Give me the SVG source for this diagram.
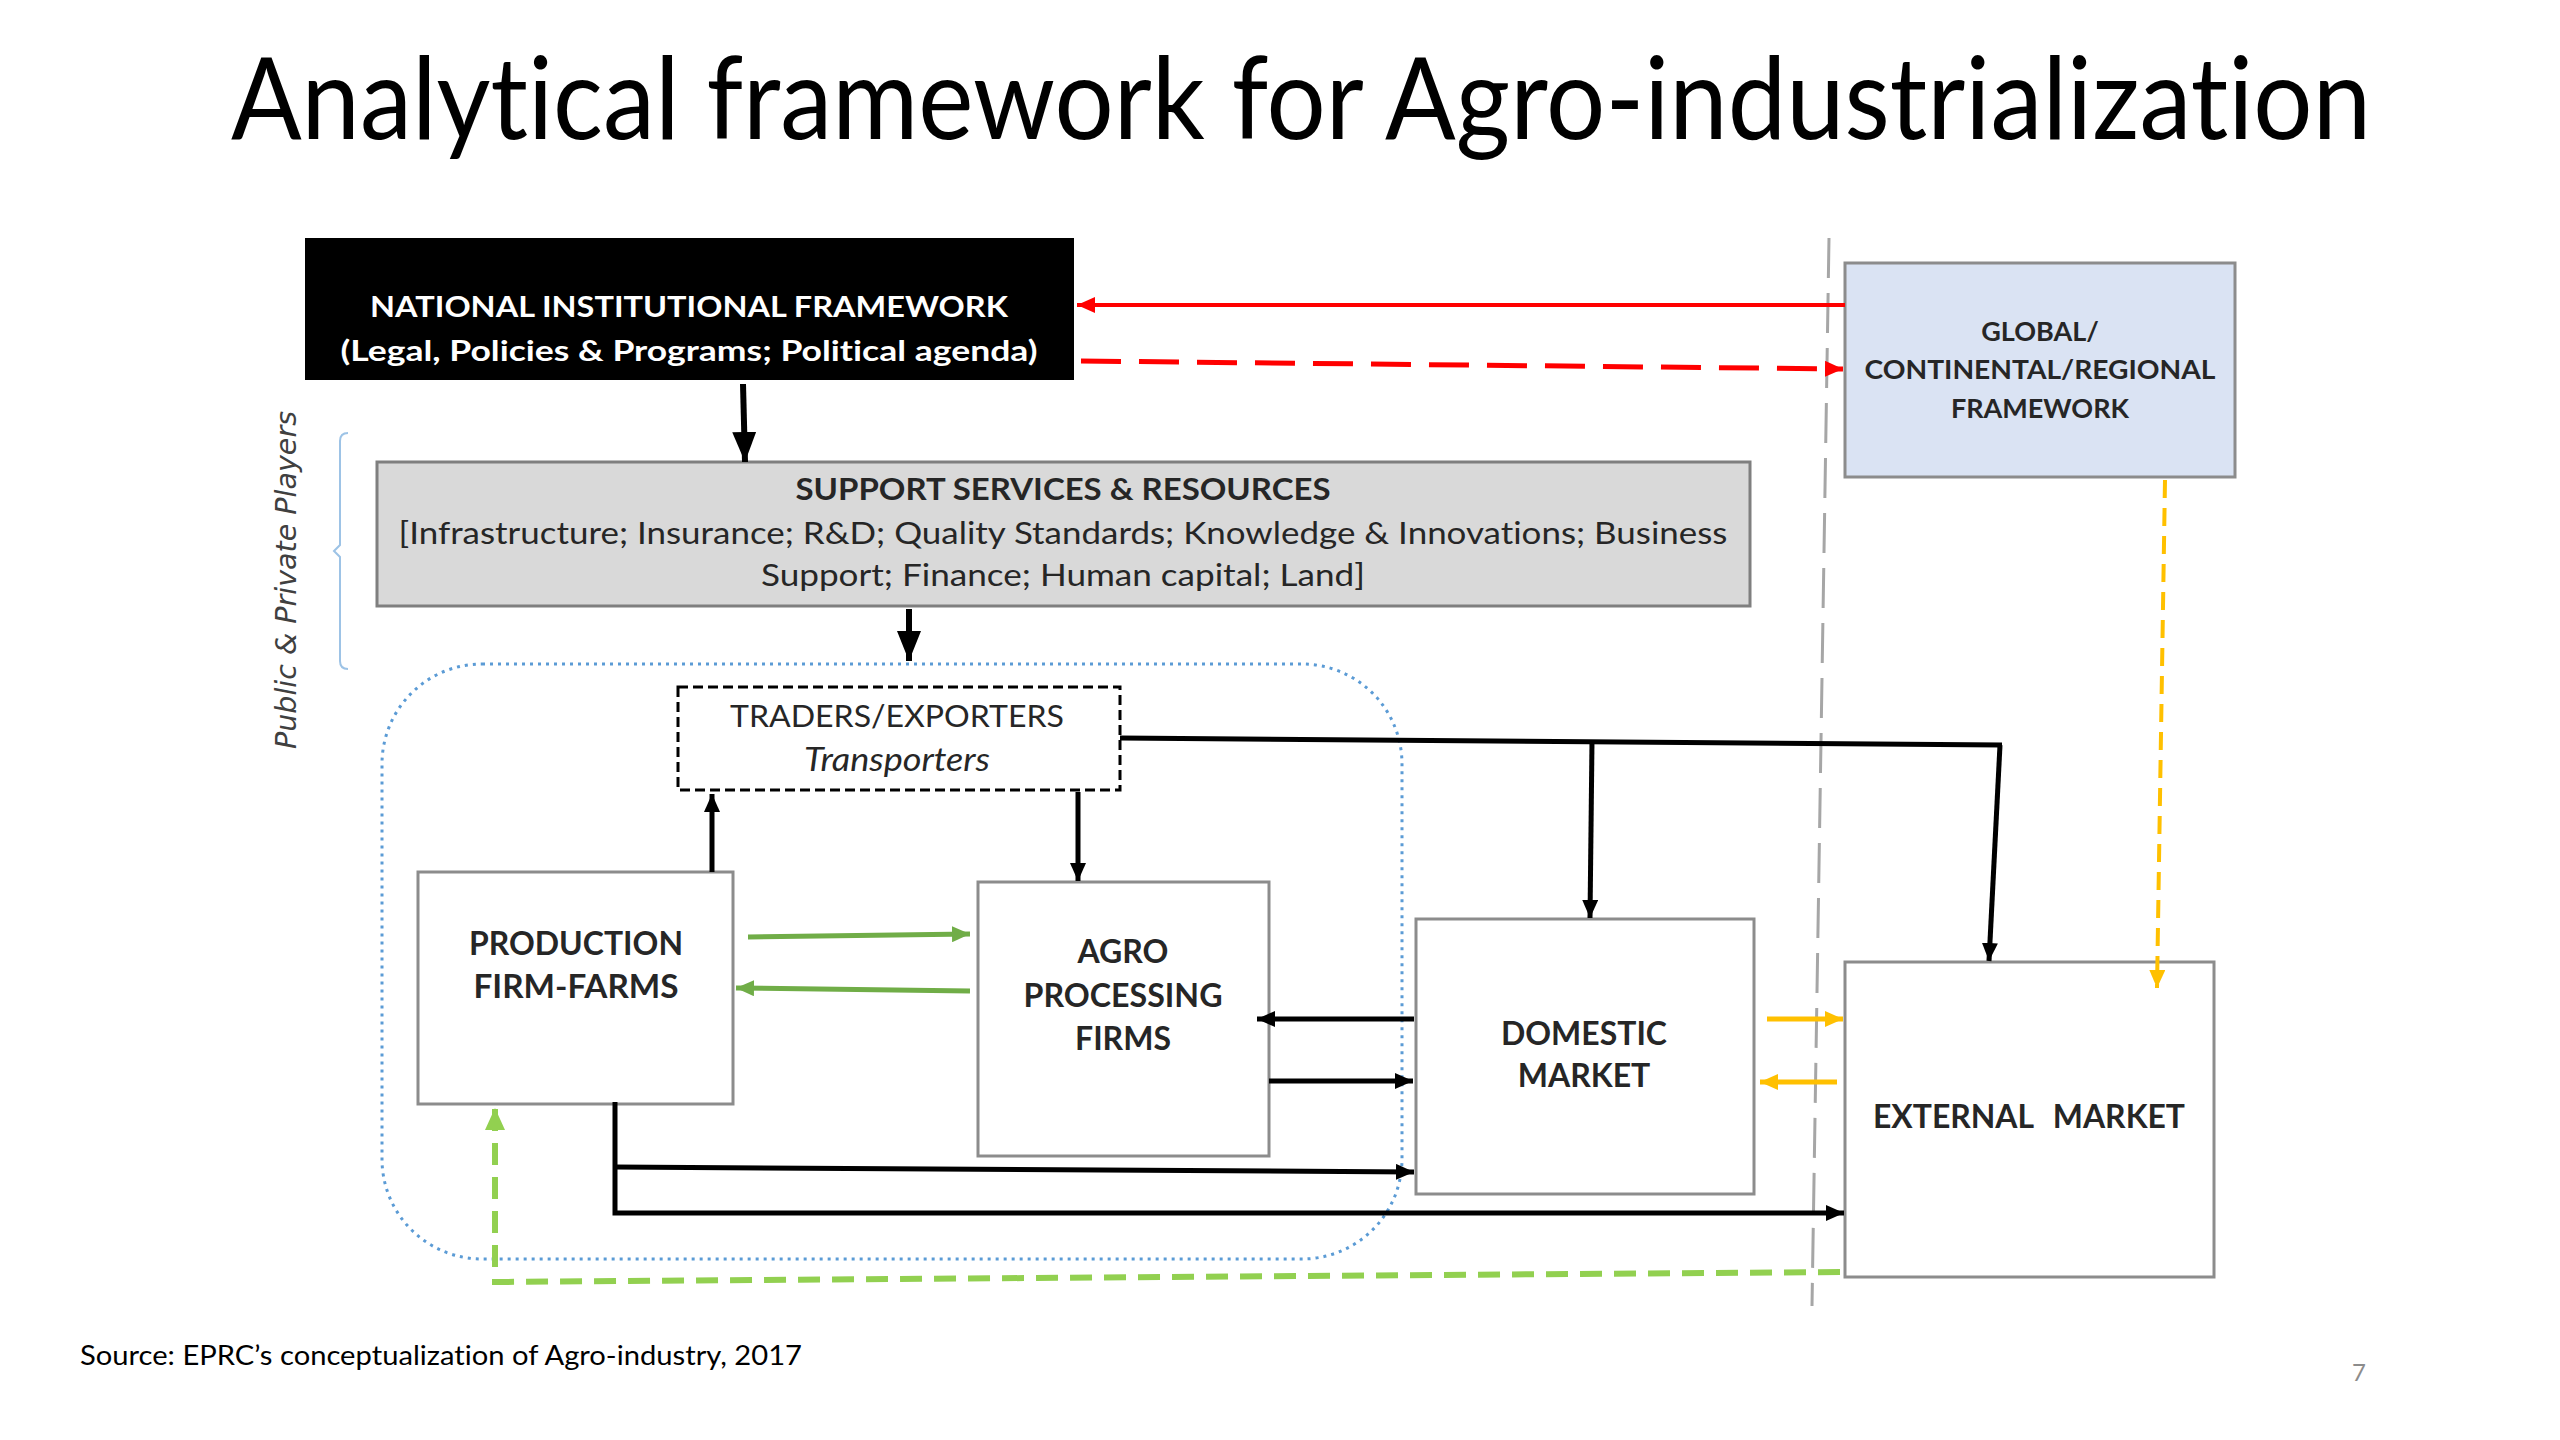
<svg xmlns="http://www.w3.org/2000/svg" width="2560" height="1440" viewBox="0 0 2560 1440">
<defs>
<style>
.t{font-family:Lato,"Open Sans","Liberation Sans",sans-serif;font-variant-ligatures:none;}
.b{font-weight:bold;}
.box{fill:#ffffff;stroke:#8c8c8c;stroke-width:3;}
.lbl{font-size:32px;fill:#262626;text-anchor:middle;font-weight:bold;}
.blk{stroke:#000;stroke-width:5;fill:none;}
.grn{stroke:#70ad47;stroke-width:5;fill:none;}
.yel{stroke:#ffc000;stroke-width:5;fill:none;}
</style>
<marker id="aB" markerUnits="userSpaceOnUse" markerWidth="18" markerHeight="16" refX="18" refY="8" orient="auto"><path d="M0,0 L18,8 L0,16 z" fill="#000"/></marker>
<marker id="aBig" markerUnits="userSpaceOnUse" markerWidth="30" markerHeight="24" refX="30" refY="12" orient="auto"><path d="M0,0 L30,12 L0,24 z" fill="#000"/></marker>
<marker id="aR" markerUnits="userSpaceOnUse" markerWidth="18" markerHeight="16" refX="18" refY="8" orient="auto"><path d="M0,0 L18,8 L0,16 z" fill="#ff0000"/></marker>
<marker id="aG" markerUnits="userSpaceOnUse" markerWidth="18" markerHeight="16" refX="18" refY="8" orient="auto"><path d="M0,0 L18,8 L0,16 z" fill="#70ad47"/></marker>
<marker id="aLG" markerUnits="userSpaceOnUse" markerWidth="22" markerHeight="20" refX="22" refY="10" orient="auto"><path d="M0,0 L22,10 L0,20 z" fill="#92d050"/></marker>
<marker id="aY" markerUnits="userSpaceOnUse" markerWidth="18" markerHeight="16" refX="18" refY="8" orient="auto"><path d="M0,0 L18,8 L0,16 z" fill="#ffc000"/></marker>
</defs>
<rect width="2560" height="1440" fill="#ffffff"/>

<text class="t" x="1301" y="139" font-size="114" text-anchor="middle" textLength="2140" lengthAdjust="spacingAndGlyphs" fill="#000">Analytical framework for Agro-industrialization</text>

<g id="players-label">
<text x="0" y="0" transform="translate(296,580) rotate(-90)" font-family="'DejaVu Sans',sans-serif" font-style="italic" font-size="29" fill="#404040" text-anchor="middle" textLength="338" lengthAdjust="spacingAndGlyphs">Public &amp; Private Players</text>
<path d="M348,433 Q340,433 340,441 L340,545 L334,551 L340,557 L340,661 Q340,669 348,669" fill="none" stroke="#9dc3e6" stroke-width="2"/>
</g>
<g id="value-chain-boundary">
<rect x="382" y="664" width="1020" height="595" rx="100" ry="100" fill="none" stroke="#5b9bd5" stroke-width="3" stroke-dasharray="3 5"/>
</g>
<g id="border-line">
<line x1="1829" y1="238" x2="1812" y2="1306" stroke="#a6a6a6" stroke-width="3" stroke-dasharray="40 15"/>
</g>

<g id="national">
<rect x="305" y="238" width="769" height="142" fill="#000"/>
<text class="t b" x="689" y="317" font-size="29" fill="#fff" text-anchor="middle" textLength="638" lengthAdjust="spacingAndGlyphs">NATIONAL INSTITUTIONAL FRAMEWORK</text>
<text class="t b" x="689" y="361" font-size="29" fill="#fff" text-anchor="middle" textLength="697" lengthAdjust="spacingAndGlyphs">(Legal, Policies &amp; Programs; Political agenda)</text>
</g>

<g id="global">
<rect x="1845" y="263" width="390" height="214" fill="#dae3f3" stroke="#8c8c8c" stroke-width="3"/>
<text class="t lbl" x="2040" y="341" font-size="26" style="font-size:27px">GLOBAL/</text>
<text class="t lbl" x="2040" y="379" style="font-size:27px" textLength="351" lengthAdjust="spacingAndGlyphs">CONTINENTAL/REGIONAL</text>
<text class="t lbl" x="2040" y="418" style="font-size:27px">FRAMEWORK</text>
</g>

<g id="support">
<rect x="377" y="462" width="1373" height="144" fill="#d9d9d9" stroke="#7f7f7f" stroke-width="3"/>
<text class="t b" x="1063" y="500" font-size="30" fill="#262626" text-anchor="middle" textLength="535" lengthAdjust="spacingAndGlyphs">SUPPORT SERVICES &amp; RESOURCES</text>
<text class="t" x="1063" y="544" font-size="30" fill="#262626" text-anchor="middle" textLength="1329" lengthAdjust="spacingAndGlyphs">[Infrastructure; Insurance; R&amp;D; Quality Standards; Knowledge &amp; Innovations; Business</text>
<text class="t" x="1063" y="586" font-size="30" fill="#262626" text-anchor="middle" textLength="604" lengthAdjust="spacingAndGlyphs">Support; Finance; Human capital; Land]</text>
</g>

<g id="traders">
<rect x="678" y="687" width="442" height="103" fill="#fff" stroke="#000" stroke-width="3" stroke-dasharray="10 5"/>
<text class="t" x="897" y="727" font-size="30" fill="#262626" text-anchor="middle" textLength="334" lengthAdjust="spacingAndGlyphs">TRADERS/EXPORTERS</text>
<text class="t" x="897" y="771" font-size="32" font-style="italic" fill="#262626" text-anchor="middle" textLength="186" lengthAdjust="spacingAndGlyphs">Transporters</text>
</g>

<g id="production">
<rect class="box" x="418" y="872" width="315" height="232"/>
<text class="t lbl" x="576" y="955" textLength="214" lengthAdjust="spacingAndGlyphs">PRODUCTION</text>
<text class="t lbl" x="576" y="998" textLength="205" lengthAdjust="spacingAndGlyphs">FIRM-FARMS</text>
</g>

<g id="agro">
<rect class="box" x="978" y="882" width="291" height="274"/>
<text class="t lbl" x="1123" y="963">AGRO</text>
<text class="t lbl" x="1123" y="1007" textLength="199" lengthAdjust="spacingAndGlyphs">PROCESSING</text>
<text class="t lbl" x="1123" y="1050">FIRMS</text>
</g>

<g id="domestic">
<rect class="box" x="1416" y="919" width="338" height="275"/>
<text class="t lbl" x="1584" y="1045" textLength="166" lengthAdjust="spacingAndGlyphs">DOMESTIC</text>
<text class="t lbl" x="1584" y="1087">MARKET</text>
</g>

<g id="external">
<rect class="box" x="1845" y="962" width="369" height="315"/>
<text class="t lbl" x="2029" y="1128" word-spacing="12" textLength="312" lengthAdjust="spacingAndGlyphs">EXTERNAL MARKET</text>
</g>

<g id="connectors">
<line x1="1845" y1="305" x2="1077" y2="305" stroke="#ff0000" stroke-width="4" marker-end="url(#aR)"/>
<line x1="1081" y1="361" x2="1843" y2="369" stroke="#ff0000" stroke-width="5" stroke-dasharray="40 18" marker-end="url(#aR)"/>
<line x1="743" y1="384" x2="745" y2="462" stroke="#000" stroke-width="6" marker-end="url(#aBig)"/>
<line x1="909" y1="609" x2="909" y2="661" stroke="#000" stroke-width="6" marker-end="url(#aBig)"/>
<line class="blk" x1="712" y1="872" x2="712" y2="794" marker-end="url(#aB)"/>
<line class="blk" x1="1078" y1="792" x2="1078" y2="881" marker-end="url(#aB)"/>
<path class="blk" d="M1120,738 L2002,745"/>
<line class="blk" x1="1592" y1="741" x2="1590" y2="918" marker-end="url(#aB)"/>
<line class="blk" x1="2000" y1="745" x2="1989" y2="961" marker-end="url(#aB)"/>
<line class="grn" x1="748" y1="937" x2="970" y2="934" marker-end="url(#aG)"/>
<line class="grn" x1="970" y1="991" x2="736" y2="988" marker-end="url(#aG)"/>
<line class="blk" x1="1414" y1="1019" x2="1257" y2="1019" marker-end="url(#aB)"/>
<line class="blk" x1="1269" y1="1081" x2="1413" y2="1081" marker-end="url(#aB)"/>
<path class="blk" d="M615,1102 L615,1213 L1844,1213" marker-end="url(#aB)"/>
<line class="blk" x1="615" y1="1167" x2="1414" y2="1172" marker-end="url(#aB)"/>
<line class="yel" x1="1767" y1="1019" x2="1843" y2="1019" marker-end="url(#aY)"/>
<line class="yel" x1="1837" y1="1082" x2="1760" y2="1082" marker-end="url(#aY)"/>
<line x1="2165" y1="480" x2="2157" y2="988" stroke="#ffc000" stroke-width="4" stroke-dasharray="18 10" marker-end="url(#aY)"/>
<path d="M1840,1272 L495,1282 L495,1108" fill="none" stroke="#92d050" stroke-width="6" stroke-dasharray="22 12" marker-end="url(#aLG)"/>
</g>

<text class="t" x="80" y="1365" font-size="27" fill="#000" textLength="722" lengthAdjust="spacingAndGlyphs">Source: EPRC’s conceptualization of Agro-industry, 2017</text>
<text class="t" x="2352" y="1381" font-size="24" fill="#8c8c8c">7</text>
</svg>
